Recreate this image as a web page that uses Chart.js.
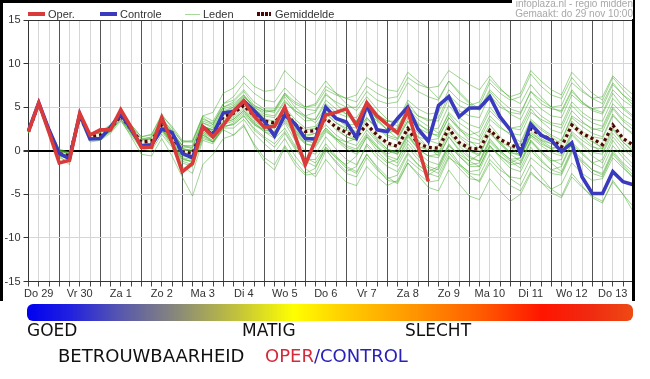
<!DOCTYPE html>
<html><head><meta charset="utf-8">
<script src="https://cdn.jsdelivr.net/npm/chart.js@4.4.0/dist/chart.umd.min.js"></script>
<style>
html,body{margin:0;padding:0;background:#fff;width:650px;height:379px;overflow:hidden;font-family:"Liberation Sans",Arial,sans-serif}
#c{position:absolute;left:0;top:0}
#frame{position:absolute;left:0;top:0;width:635px;height:301px;border:3px solid #000;border-bottom:none;box-sizing:border-box;pointer-events:none}
.lg{position:absolute;top:8px;font-size:11px;color:#333;line-height:12px;white-space:nowrap}
.sw{position:absolute}
#info{position:absolute;right:17px;top:-1px;font-size:10px;line-height:10px;color:#a8a8a8;text-align:right;background:#fff;padding-left:3px}
#bottom{position:absolute;left:0;top:301px;width:650px;height:78px;background:#fff}
#bar{position:absolute;left:27px;top:3px;width:606px;height:17px;border-radius:6px;
 background:linear-gradient(to right,#0000f0 0%,#2020e0 7%,#5555b0 15%,#8a8a78 25%,#c4c43a 35%,#ffff00 44%,#ffd000 52%,#ff9a00 63%,#ff5a00 75%,#ff1500 85%,#f02a10 93%,#ee4a14 100%)}
.bt{position:absolute;font-family:"DejaVu Sans",sans-serif;font-size:17px;line-height:20px;color:#111;white-space:nowrap}
.bt2{font-size:18px}
</style></head>
<body>
<canvas id="c" width="650" height="300"></canvas>
<div id="frame"></div>
<div id="info">infoplaza.nl - regio midden<br>Gemaakt: do 29 nov 10:00</div>
<div class="sw" style="left:28px;top:12px;width:17px;height:4px;background:#d93a3a"></div>
<div class="lg" style="left:48px">Oper.</div>
<div class="sw" style="left:100px;top:12px;width:17px;height:4px;background:#3a3abf"></div>
<div class="lg" style="left:120px">Controle</div>
<div class="sw" style="left:185px;top:14px;width:15px;height:1px;background:#a9d89c"></div>
<div class="lg" style="left:203px">Leden</div>
<div class="sw" style="left:257px;top:12px;width:14px;height:4px;background:repeating-linear-gradient(to right,#4a0a0a 0 3px,#fff 3px 4px)"></div>
<div class="lg" style="left:275px">Gemiddelde</div>
<div id="bottom">
 <div id="bar"></div>
 <div class="bt" style="left:27px;top:19px">GOED</div>
 <div class="bt" style="left:242px;top:19px">MATIG</div>
 <div class="bt" style="left:405px;top:19px">SLECHT</div>
 <div class="bt bt2" style="left:58px;top:45px">BETROUWBAARHEID</div>
 <div class="bt bt2" style="left:265px;top:45px"><span style="color:#d42a3a">OPER</span><span style="color:#2a22b8">/CONTROL</span></div>
</div>
<script>
const dayLabels = ['Do 29','Vr 30','Za 1','Zo 2','Ma 3','Di 4','Wo 5','Do 6','Vr 7','Za 8','Zo 9','Ma 10','Di 11','Wo 12','Do 13'];
const hourLabels = ['06','12','18','24'];
const yTicks = [-15,-10,-5,0,5,10,15];

const oper = [2.2,5.5,2.1,-1.4, -1.1,4.3,1.8,2.4, 2.4,4.7,2.7,0.4, 0.4,3.8,1.0,-2.4,
 -1.45,2.75,1.6,2.95, 4.5,5.7,4.0,2.7, 2.8,5.0,1.7,-1.6, 1.2,4.1,4.4,4.8,
 2.9,5.5,4.0,3.0, 2.05,4.6,0.5,-3.5];

const controle = [2.3,5.5,2.4,-0.3, -0.9,4.2,1.35,1.4, 2.7,4.2,2.5,0.55, 0.65,2.5,2.1,-0.3,
 -0.8,2.75,1.8,4.35, 4.5,5.7,4.6,3.4, 1.7,4.1,3.1,1.4, 1.35,5.0,3.7,3.3,
 1.5,5.3,2.4,2.2, 3.7,5.0,2.5,1.1, 5.2,6.2,3.9,4.9, 4.9,6.2,3.9,2.4,
 -0.3,3.05,1.8,1.2, -0.1,0.9,-3.0,-4.9, -4.9,-2.4,-3.55,-3.9];

const gemiddelde = [2.2,5.4,2.3,-0.3, -0.6,4.0,1.6,1.8, 2.6,4.0,2.5,1.0, 1.1,3.0,1.6,-0.1,
 -0.3,2.6,2.0,3.9, 4.3,5.2,4.0,3.4, 3.2,4.6,3.0,2.2, 2.3,3.7,2.7,2.1,
 1.6,3.0,1.8,0.9, 0.5,2.55,0.8,0.4, 0.3,2.55,0.95,0.3, 0.2,2.35,1.3,0.7,
 0.2,2.5,1.8,1.3, 0.45,2.95,2.0,1.4, 0.7,2.95,1.4,0.65];

const leden = [
 [2.4,5.6,2.6,0.2, -0.2,4.3,2.0,2.1, 2.9,4.6,3.0,1.6, 1.8,4.2,2.6,1.0, 1.0,3.8,3.0,5.0, 5.6,6.8,5.2,4.6, 4.4,6.2,4.6,3.8, 3.6,5.4,4.4,3.9, 3.8,5.6,4.2,3.4, 3.2,5.5,4.0,3.6, 3.4,6.0,4.6,4.0, 3.8,6.4,5.0,4.4, 4.2,6.8,5.4,4.8, 4.6,7.0,5.6,4.6, 4.2,6.6,5.0,4.0],
 [2.0,5.2,2.0,-0.8, -1.3,3.6,1.0,1.2, 2.0,3.4,1.8,0.2, 0.0,1.9,0.4,-1.8, -2.6,1.2,0.8,2.6, 3.2,4.2,3.0,2.2, 1.8,3.2,1.2,0.0, -0.4,1.6,0.2,-1.0, -1.6,0.6,-0.8,-1.8, -2.4,-0.2,-1.6,-2.6, -3.0,-0.6,-2.0,-3.2, -3.4,-1.0,-2.2,-3.0, -3.2,-0.8,-1.8,-2.6, -2.8,-0.2,-1.2,-2.2, -2.6,0.0,-1.4,-2.4],
 [2.3,5.5,2.4,-0.2, -0.5,4.1,1.7,1.9, 2.7,4.2,2.6,1.2, 1.3,3.4,2.0,0.6, 0.4,3.4,3.0,5.4, 6.2,7.8,6.6,5.8, 5.6,7.2,6.0,5.0, 5.2,7.0,6.4,6.0, 5.6,7.4,6.6,6.0, 6.2,8.4,7.6,7.2, 7.4,9.2,8.4,7.6, 7.0,8.6,7.2,6.0, 5.4,7.6,6.2,5.0, 4.4,6.8,5.6,4.8, 5.0,7.6,6.4,5.6],
 [2.1,5.3,2.2,-0.4, -0.8,3.8,1.4,1.5, 2.4,3.8,2.2,0.8, 0.8,2.6,1.0,-0.8, -1.4,2.0,1.4,3.2, 3.6,4.6,3.2,2.4, 2.0,3.4,1.8,0.8, 0.6,2.4,1.2,0.2, -0.4,1.6,0.0,-1.2, -1.8,0.4,-1.0,-2.0, -2.6,-0.2,-1.6,-2.8, -3.6,-1.4,-2.8,-4.0, -4.6,-2.4,-3.6,-4.8, -5.4,-3.0,-4.2,-5.2, -5.8,-3.6,-5.0,-6.4],
 [2.2,5.4,2.3,-0.2, -0.6,4.0,1.8,2.0, 2.5,3.9,2.4,0.8, 1.0,3.2,1.8,0.2, 0.0,2.9,2.2,4.2, 4.6,5.8,4.4,3.6, 3.0,4.4,2.4,1.2, 1.4,3.6,2.8,2.0, 1.2,3.2,1.4,0.2, -0.4,1.8,0.4,0.2, 0.6,3.2,1.8,1.0, 0.8,3.0,1.6,0.4, -0.6,1.8,1.0,0.2, -0.4,2.2,1.2,0.4, 0.2,2.6,1.0,0.0],
 [2.3,5.5,2.5,0.0, -0.4,4.2,1.9,2.2, 2.8,4.4,2.8,1.4, 1.5,3.6,2.4,1.0, 1.2,4.0,4.4,6.6, 7.2,8.6,7.4,6.8, 7.0,9.2,8.0,7.2, 6.4,8.0,6.6,5.4, 4.6,6.2,4.8,3.6, 2.8,4.8,3.2,2.2, 1.6,3.8,2.4,1.6, 1.2,3.6,2.6,2.0, 1.8,4.4,3.6,3.0, 2.6,5.2,4.0,3.2, 2.8,5.4,4.2,3.4],
 [2.0,5.3,2.1,-0.6, -1.6,3.7,1.2,1.3, 2.2,3.6,1.6,-0.4, -0.6,1.4,-0.6,-3.0, -5.2,-1.6,-0.4,1.4, 1.8,3.0,0.6,-1.2, -2.2,0.4,-1.6,-2.8, -2.6,0.0,-1.2,-2.4, -1.8,0.8,-0.4,-1.4, -1.0,1.6,0.2,-0.6, -0.4,2.0,0.6,-0.6, -1.2,1.4,0.0,-1.0, -1.6,1.0,-0.2,-1.2, -1.0,1.8,0.6,-0.6, -1.4,1.2,-0.4,-1.6],
 [2.3,5.5,2.4,0.1, -0.3,4.2,1.8,2.0, 2.8,4.3,2.8,1.3, 1.6,3.8,2.2,0.6, 0.2,3.2,2.6,4.6, 5.0,6.2,5.0,4.2, 4.0,5.8,4.4,3.4, 3.6,5.8,4.8,4.2, 3.4,5.0,3.6,2.4, 2.0,4.4,3.0,2.4, 2.6,5.2,3.8,3.0, 2.6,5.0,3.6,2.6, 2.4,4.8,3.4,2.4, 2.0,4.6,3.4,2.4, 2.6,5.0,3.6,2.8],
 [2.1,5.3,2.2,-0.5, -0.9,3.8,1.4,1.5, 2.3,3.7,2.2,0.6, 0.6,2.4,0.8,-1.0, -1.2,1.8,1.2,3.0, 3.4,4.4,3.0,2.4, 2.2,3.6,2.0,1.0, 1.2,2.6,1.4,0.6, 0.2,2.0,0.6,-0.6, -1.0,1.2,-0.2,-1.2, -1.6,0.8,-0.6,-1.8, -1.8,0.6,-0.6,-1.6, -1.4,1.2,0.0,-1.0, -1.6,1.0,-0.2,-1.4, -2.0,0.6,-0.8,-2.0],
 [2.2,5.4,2.3,-0.3, -0.7,4.0,1.6,1.7, 2.6,4.0,2.4,1.0, 1.2,3.2,1.6,0.0, -0.2,2.8,2.4,4.4, 4.8,6.0,4.8,4.0, 3.8,5.6,4.6,4.0, 4.4,6.4,5.6,5.0, 5.0,6.8,5.8,5.4, 5.6,7.8,6.8,6.2, 5.8,8.0,6.6,5.4, 4.6,6.8,5.4,4.2, 3.6,6.0,4.8,4.0, 3.8,6.4,5.4,4.8, 4.4,7.0,5.8,5.0],
 [2.2,5.4,2.2,-0.4, -0.8,3.9,1.5,1.6, 2.4,3.8,2.2,0.8, 0.8,2.8,1.2,-0.6, -0.8,2.2,1.4,3.2, 3.6,4.6,3.2,2.2, 1.4,2.6,0.6,-0.8, -1.4,0.4,-0.8,-2.0, -2.6,-0.4,-1.8,-3.0, -3.8,-1.4,-2.6,-3.6, -3.4,-0.8,-1.6,-2.4, -2.2,0.4,-0.6,-1.4, -0.8,1.8,0.8,0.2, 0.6,3.2,2.2,1.6, 1.4,4.0,2.8,2.0],
 [2.3,5.4,2.4,-0.1, -0.5,4.1,1.7,1.9, 2.7,4.1,2.6,1.1, 1.2,3.2,1.8,0.1, -0.1,2.8,2.2,4.0, 4.4,5.6,4.2,3.6, 3.4,5.0,3.6,2.6, 2.8,4.4,3.2,2.4, 2.0,3.8,2.6,1.6, 1.2,3.4,2.0,1.2, 0.8,3.0,1.6,0.6, 0.0,2.2,0.8,-0.4, -1.2,1.2,-0.2,-1.4, -2.4,0.2,-1.0,-2.2, -2.8,-0.2,-1.6,-2.8],
 [2.1,5.3,2.1,-0.6, -1.0,3.7,1.3,1.4, 2.2,3.6,2.0,0.4, 0.4,2.2,0.6,-1.4, -1.8,1.4,1.0,2.8, 3.0,4.0,2.6,1.6, 0.8,2.2,0.4,-1.0, -1.0,0.8,-0.6,-1.8, -2.4,-0.4,-2.0,-3.4, -3.6,-1.4,-2.8,-4.2, -4.6,-2.2,-3.8,-5.2, -5.6,-3.2,-4.6,-5.8, -5.0,-2.6,-3.6,-4.4, -3.8,-1.4,-2.6,-3.4, -3.2,-0.8,-2.0,-3.0],
 [2.2,5.5,2.4,-0.2, -0.6,4.0,1.6,1.8, 2.6,4.0,2.6,1.0, 1.0,3.0,1.4,-0.2, -0.4,2.4,1.8,3.8, 4.2,5.2,3.8,3.0, 2.6,4.2,2.6,1.6, 2.0,3.8,2.6,1.6, 1.2,3.0,1.6,0.6, 0.4,2.8,1.6,1.2, 1.4,3.8,2.6,1.8, 2.2,4.6,3.4,2.6, 2.8,5.2,4.0,3.2, 3.0,5.6,4.4,3.6, 3.4,6.0,4.8,3.8],
 [2.1,5.4,2.2,-0.4, -0.8,3.9,1.5,1.6, 2.4,3.8,2.2,0.6, 0.6,2.6,1.0,-0.8, -1.0,2.0,1.0,2.4, 1.8,2.8,0.8,-0.8, -1.6,0.6,-1.2,-2.6, -2.0,0.4,-0.8,-1.6, -0.6,1.6,0.4,-0.4, 0.2,2.6,1.2,0.4, 0.0,2.4,1.0,0.0, -0.6,2.0,0.8,-0.2, -0.4,2.2,1.2,0.4, 0.2,2.8,1.6,0.6, -0.2,2.4,1.0,-0.2],
 [2.3,5.5,2.4,0.0, -0.4,4.2,1.8,2.0, 2.8,4.2,2.7,1.2, 1.4,3.4,2.0,0.4, 0.4,3.2,2.8,4.8, 5.2,6.4,5.0,4.4, 4.6,6.6,5.6,5.0, 5.4,7.4,6.6,6.0, 6.4,8.4,7.6,7.0, 6.8,9.0,8.0,7.2, 6.0,8.0,6.8,5.6, 4.8,7.0,5.8,4.8, 4.4,6.8,5.8,5.0, 5.2,7.8,6.8,6.0, 6.2,8.6,7.4,6.4],
 [2.2,5.4,2.3,-0.3, -0.7,3.9,1.5,1.7, 2.5,3.9,2.3,0.8, 0.9,2.8,1.2,-0.4, -0.6,2.2,1.6,3.4, 3.8,4.8,3.4,2.6, 2.2,3.8,2.2,1.2, 0.8,2.6,1.4,0.4, 0.0,1.8,0.4,-0.8, -1.4,0.8,-0.6,-1.8, -2.2,0.2,-1.4,-2.6, -2.8,-0.4,-1.8,-3.2, -4.0,-1.6,-3.0,-4.4, -5.2,-2.6,-4.0,-5.4, -6.0,-3.4,-5.0,-7.0],
 [2.4,5.6,2.5,0.1, -0.3,4.3,2.0,2.2, 3.0,4.6,3.0,1.6, 1.9,4.0,2.8,1.2, 1.0,4.0,3.4,5.4, 5.8,7.0,5.6,4.8, 4.8,6.6,5.0,4.0, 3.2,5.0,3.8,2.8, 2.6,4.6,3.4,2.4, 2.6,5.0,4.0,3.4, 3.8,6.4,5.2,4.6, 5.2,7.8,6.6,5.8, 6.2,8.8,7.4,6.4, 6.0,8.4,7.0,6.0, 5.4,7.8,6.4,5.2],
 [2.3,5.4,2.3,-0.2, -0.5,4.1,1.7,1.9, 2.6,4.1,2.6,1.1, 1.2,3.1,1.8,0.2, 0.1,2.8,2.2,4.0, 4.4,5.4,4.2,3.6, 3.4,4.8,3.2,2.4, 2.6,4.2,3.2,2.6, 2.2,3.8,2.6,1.8, 1.4,3.8,2.6,2.0, 1.8,4.4,3.2,2.4, 1.6,4.0,2.8,1.8, 1.0,3.6,2.6,1.8, 1.2,3.8,2.8,2.0, 1.6,4.2,2.8,1.8],
 [2.2,5.3,2.2,-0.4, -0.7,3.9,1.5,1.7, 2.5,3.9,2.4,0.9, 0.9,2.8,1.4,-0.4, -0.6,2.4,1.8,3.6, 4.0,5.0,3.6,2.8, 2.6,4.0,2.4,1.4, 1.6,3.0,1.8,1.0, 0.6,2.4,1.0,0.0, -0.4,1.8,0.2,-0.6, -0.8,1.6,0.2,-0.8, -1.2,1.2,0.0,-1.0, -0.8,1.6,0.6,-0.2, -0.6,2.0,0.8,-0.2, -0.4,2.0,0.6,-0.6],
 [2.2,5.4,2.4,-0.1, -0.6,4.0,1.7,1.9, 2.6,4.2,2.6,1.2, 1.4,3.4,2.2,0.6, 0.6,3.6,3.2,5.0, 5.4,6.4,4.8,3.8, 2.8,4.2,2.2,0.8, 0.4,2.2,1.4,1.0, 1.4,3.6,2.6,2.0, 2.4,4.8,3.6,2.8, 2.0,4.2,2.6,1.2, 0.2,2.4,1.0,-0.2, -0.6,2.0,1.2,0.8, 1.2,4.0,3.2,2.6, 2.2,4.8,3.4,2.4],
 [2.1,5.3,2.1,-0.5, -1.0,3.8,1.3,1.4, 2.3,3.7,2.0,0.5, 0.4,2.4,0.8,-1.2, -1.6,1.6,1.0,2.8, 3.0,4.0,2.4,1.4, 0.4,2.0,0.2,-1.2, -1.8,0.2,-1.4,-2.6, -3.0,-0.8,-2.2,-3.2, -2.8,-0.4,-1.6,-2.4, -1.8,0.6,-0.6,-1.6, -1.4,1.0,-0.2,-1.2, -2.0,0.4,-1.0,-2.2, -2.6,0.0,-1.4,-2.6, -3.0,-0.4,-1.8,-3.2],
 [2.3,5.5,2.5,0.0, -0.4,4.1,1.8,2.0, 2.7,4.2,2.7,1.2, 1.4,3.4,1.9,0.3, -0.1,2.8,2.4,4.2, 4.6,5.6,4.2,3.4, 3.0,4.6,3.2,2.4, 2.4,4.4,3.6,3.0, 3.0,5.0,4.0,3.4, 3.4,5.8,4.8,4.2, 4.4,7.0,5.8,5.2, 5.6,8.2,7.0,6.2, 6.6,9.2,8.0,7.0, 6.4,9.0,7.8,6.6, 5.8,8.4,7.0,5.8],
 [2.2,5.4,2.3,-0.3, -0.6,4.0,1.6,1.8, 2.6,4.0,2.5,1.0, 1.0,3.0,1.6,-0.2, -0.4,2.6,2.0,3.8, 4.2,5.2,4.0,3.2, 2.8,4.4,2.8,1.8, 2.0,3.6,2.4,1.6, 1.2,2.8,1.2,0.2, -0.2,2.0,0.6,0.0, -0.2,2.2,0.8,0.0, -0.4,2.0,1.0,0.4, 0.0,2.4,1.4,0.8, 0.2,2.8,1.8,1.0, 0.4,2.8,1.4,0.4],
 [2.2,5.5,2.3,-0.2, -0.6,4.1,1.6,1.8, 2.7,4.1,2.5,1.0, 1.1,3.0,1.6,0.0, -0.2,2.8,2.4,4.4, 5.0,6.2,5.2,4.6, 4.6,6.4,5.4,4.8, 4.6,6.6,5.4,4.2, 3.4,5.2,3.6,2.4, 1.4,3.4,1.6,0.4, -0.6,1.6,0.0,-1.2, -1.8,0.6,-0.8,-2.0, -2.4,0.0,-1.2,-2.2, -1.8,0.8,-0.4,-1.4, -1.0,1.6,0.2,-0.8],
 [2.1,5.3,2.2,-0.5, -0.9,3.8,1.4,1.5, 2.3,3.7,2.1,0.5, 0.5,2.5,0.9,-1.0, -1.2,1.8,1.0,2.6, 2.6,3.6,2.0,0.8, -0.2,1.4,-0.6,-2.0, -3.0,-1.0,-2.4,-3.6, -4.0,-1.8,-3.0,-4.0, -3.4,-1.0,-2.0,-2.8, -2.0,0.6,-0.4,-1.2, -0.4,2.2,1.2,0.6, 0.8,3.4,2.4,1.6, 0.8,3.4,2.2,1.2, 0.2,2.8,1.4,0.2]
];

const timeLabels = [];
dayLabels.forEach(d => hourLabels.forEach(h => timeLabels.push(d + ' ' + h + 'u')));

const base = {pointRadius:0, pointHoverRadius:0, tension:0, fill:false};
const datasets = [
  Object.assign({label:'Oper.', data:oper, borderColor:'#d93a3a', borderWidth:3.6, order:0}, base),
  Object.assign({label:'Controle', data:controle, borderColor:'#3a3abf', borderWidth:3.6, order:1}, base),
  Object.assign({label:'Gemiddelde', data:gemiddelde, borderColor:'#4a0a0a', borderWidth:3.3, borderDash:[3,3], order:2}, base),
  Object.assign({label:'Gemiddelde achtergrond', data:gemiddelde, borderColor:'#f7f2dc', borderWidth:3.3, order:3}, base)
];
leden.forEach(m => datasets.push(Object.assign({label:'Leden', data:m, borderColor:'rgba(65,172,40,0.5)', borderWidth:1, order:4}, base)));

Chart.defaults.font.family = '"Liberation Sans", Arial, sans-serif';
new Chart(document.getElementById('c'), {
  type:'line',
  data:{labels:timeLabels, datasets:datasets},
  options:{
    responsive:false, animation:false,
    layout:{padding:{top:20, right:16.7, left:0, bottom:0}},
    plugins:{legend:{display:false}, tooltip:{enabled:false}},
    scales:{
      x:{
        type:'category', offset:false,
        grid:{color:c => (c.index % 4 === 3) ? '#555' : '#d6d6d6', lineWidth:1, tickColor:'#444', tickLength:5},
        border:{color:'#333', width:1},
        ticks:{autoSkip:false, maxRotation:0, minRotation:0, padding:1, color:'#333', font:{size:11},
          callback:(v,i) => (i % 4 === 1) ? dayLabels[Math.floor(i/4)] : ''},
        afterFit:s => { s.height = 18.5; }
      },
      y:{
        min:-15, max:15,
        afterBuildTicks:s => { s.ticks = yTicks.map(v => ({value:v})); },
        grid:{color:c => c.tick.value === 0 ? '#000' : (c.tick.value === 15 ? '#333' : '#d6d6d6'),
              lineWidth:c => c.tick.value === 0 ? 2 : 1, tickColor:'#333', tickLength:5},
        border:{color:'#333', width:1},
        ticks:{padding:3, color:'#333', font:{size:11}, callback:v => String(v)},
        afterFit:s => { s.width = 28.5; }
      }
    }
  }
});
</script>
</body></html>
